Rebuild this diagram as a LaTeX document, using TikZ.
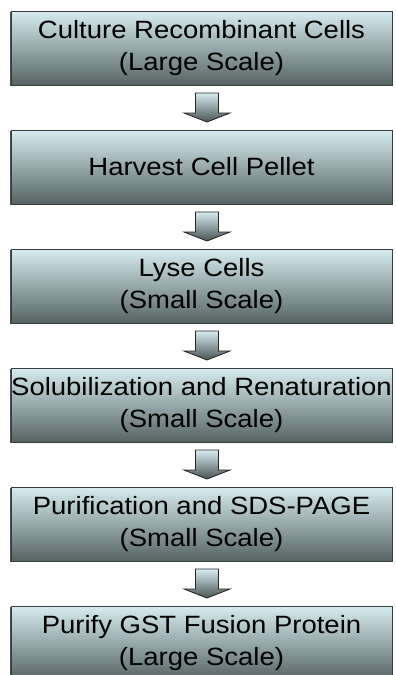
\documentclass[tikz,border=0pt]{standalone}
\usepackage{fontspec}
\setmainfont[FakeStretch=1.1]{Liberation Sans}
\usetikzlibrary{calc}
\usetikzlibrary{shadows}
\definecolor{boxtop}{RGB}{214,236,240}
\definecolor{boxbot}{RGB}{86,99,99}
\definecolor{boxline}{RGB}{55,62,62}
\tikzset{stage/.style={draw=boxline,line width=1pt,top color=boxtop,bottom color=boxbot,
  minimum width=381pt,minimum height=74pt,inner sep=0pt,align=center,
  font=\fontsize{25}{32}\selectfont,
  drop shadow={shadow xshift=-1pt,shadow yshift=-1pt,fill=black!70,opacity=1}}}
\tikzset{down/.style={draw=black!85,line width=0.8pt,top color=boxtop,bottom color=boxbot!85!black}}

\begin{document}
\begin{tikzpicture}[x=1pt,y=-1pt]
  \useasboundingbox (0,0) rectangle (396,675);
  \node[stage] (culture) at (201.5,48) {Culture Recombinant Cells\\(Large Scale)};
  \node[stage] (harvest) at (201.5,167) {Harvest Cell Pellet};
  \node[stage] (lyse) at (201.5,286) {Lyse Cells\\(Small Scale)};
  \node[stage] (solub) at (201.5,405) {\makebox[360pt]{Solubilization and Renaturation}\\(Small Scale)};
  \node[stage] (purif) at (201.5,524) {Purification and SDS-PAGE\\(Small Scale)};
  \node[stage] (gst) at (201.5,643) {Purify GST Fusion Protein\\(Large Scale)};
  \foreach \a/\b in {culture/harvest,harvest/lyse,lyse/solub,solub/purif,purif/gst}{
    \path (\a.south) -- (\b.north) coordinate[pos=.5] (mid);
    \filldraw[down] ($(mid)+(-6,-14.5)$) -- ($(mid)+(17,-14.5)$) -- ($(mid)+(17,5.5)$)
      -- ($(mid)+(28.5,5.5)$) -- ($(mid)+(5.5,14.5)$) -- ($(mid)+(-17.5,5.5)$)
      -- ($(mid)+(-6,5.5)$) -- cycle;
  }
\end{tikzpicture}
\end{document}
